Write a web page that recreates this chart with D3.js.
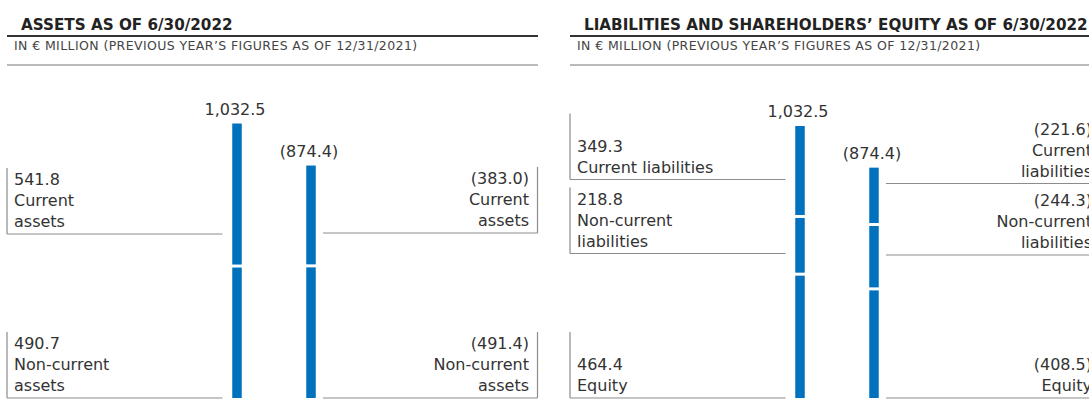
<!DOCTYPE html>
<html>
<head>
<meta charset="utf-8">
<script src="https://cdn.jsdelivr.net/npm/d3@7"></script>
<style>
  body { margin: 0; background: #fff; }
  svg { display: block; font-family: "DejaVu Sans", sans-serif; }
  .title { font-size: 15.2px; font-weight: bold; fill: #222; }
  .sub { font-size: 12.5px; fill: #444; letter-spacing: 0.4px; }
  .lbl { font-size: 16px; fill: #333; }
</style>
</head>
<body>
<svg id="chart" width="1089" height="415"></svg>
<script>
// Data (segments listed bottom to top)
const years = ["2022", "2021"];
const assetLabels = [["Non-current", "assets"], ["Current", "assets"]];
const assets2022 = [490.7, 541.8];
const assets2021 = [491.4, 383.0];

const liabLabelsLeft = [["Equity"], ["Non-current", "liabilities"], ["Current liabilities"]];
const liabLabelsRight = [["Equity"], ["Non-current", "liabilities"], ["Current", "liabilities"]];
const liab2022 = [464.4, 218.8, 349.3];
const liab2021 = [408.5, 244.3, 221.6];

const titles = ["ASSETS AS OF 6/30/2022", "LIABILITIES AND SHAREHOLDERS\u2019 EQUITY AS OF 6/30/2022"];
const subtitle = "IN \u20ac MILLION (PREVIOUS YEAR\u2019S FIGURES AS OF 12/31/2021)";

// Layout
const svg = d3.select("#chart");
const panelW = 531;
const base = 398;
const barW = 9.5;
const gap = 3;
const boxH = 66;
const lineH = 21;
const blue = "#0071bc";
const grey = "#8c8c8c";

const fmt = d3.format(",.1f");

const panels = [
  {
    x0: 7, top: 123.5, title: titles[0],
    cur: assets2022, prev: assets2021,
    labelsL: assetLabels, labelsR: assetLabels,
    boxL: [398, 234], boxR: [398, 233]
  },
  {
    x0: 570, top: 126, title: titles[1],
    cur: liab2022, prev: liab2021,
    labelsL: liabLabelsLeft, labelsR: liabLabelsRight,
    boxL: [398, 253.5, 179.5], boxR: [398, 255, 183.5]
  }
];

panels.forEach(p => {
  const g = svg.append("g");

  // header
  g.append("text").attr("class", "title")
    .attr("x", p.x0 + 14).attr("y", 29.5).text(p.title);
  g.append("line")
    .attr("x1", p.x0).attr("x2", p.x0 + panelW)
    .attr("y1", 36).attr("y2", 36)
    .attr("stroke", "#333").attr("stroke-width", 2);
  g.append("text").attr("class", "sub")
    .attr("x", p.x0 + 7).attr("y", 50).text(subtitle);
  g.append("line")
    .attr("x1", p.x0).attr("x2", p.x0 + panelW)
    .attr("y1", 65).attr("y2", 65)
    .attr("stroke", "#777").attr("stroke-width", 1);

  const total = d3.sum(p.cur);
  const x = d3.scalePoint().domain(years).range([p.x0 + 230, p.x0 + 304]);
  const y = d3.scaleLinear().domain([0, total]).range([base, p.top]);

  // stacked bars
  [p.cur, p.prev].forEach((vals, k) => {
    let cum = 0;
    const segs = vals.map((v, i) => {
      const s = { y0: cum, y1: cum + v, i };
      cum += v;
      return s;
    });
    g.selectAll(null).data(segs).enter().append("rect")
      .attr("x", x(years[k]) - barW / 2)
      .attr("width", barW)
      .attr("y", d => y(d.y1))
      .attr("height", d => y(d.y0) - y(d.y1) - (d.i > 0 ? gap : 0))
      .attr("fill", blue);

    const sum = d3.sum(vals);
    g.append("text").attr("class", "lbl")
      .attr("x", x(years[k]) - 2)
      .attr("y", y(sum) - 9)
      .attr("text-anchor", "middle")
      .text(k === 0 ? fmt(sum) : `(${fmt(sum)})`);
  });

  // label boxes
  const drawBox = (vals, labels, bottoms, side) => {
    vals.forEach((v, i) => {
      const bottom = bottoms[i];
      const lines = [side === "L" ? fmt(v) : `(${fmt(v)})`].concat(labels[i]);
      const vx = side === "L" ? p.x0 : p.x0 + 530.5;
      const hx1 = side === "L" ? p.x0 : p.x0 + 316;
      const hx2 = side === "L" ? p.x0 + 215.5 : p.x0 + 530.5;
      g.append("path")
        .attr("d", `M${vx},${bottom - boxH}V${bottom}M${hx1},${bottom}H${hx2}`)
        .attr("stroke", grey).attr("fill", "none").attr("stroke-width", 1.2);
      const t = g.append("text").attr("class", "lbl")
        .attr("text-anchor", side === "L" ? "start" : "end");
      lines.forEach((ln, j) => {
        t.append("tspan")
          .attr("x", side === "L" ? p.x0 + 7 : p.x0 + 522)
          .attr("y", bottom - 7 - (lines.length - 1 - j) * lineH)
          .text(ln);
      });
    });
  };
  drawBox(p.cur, p.labelsL, p.boxL, "L");
  drawBox(p.prev, p.labelsR, p.boxR, "R");
});
</script>
</body>
</html>
